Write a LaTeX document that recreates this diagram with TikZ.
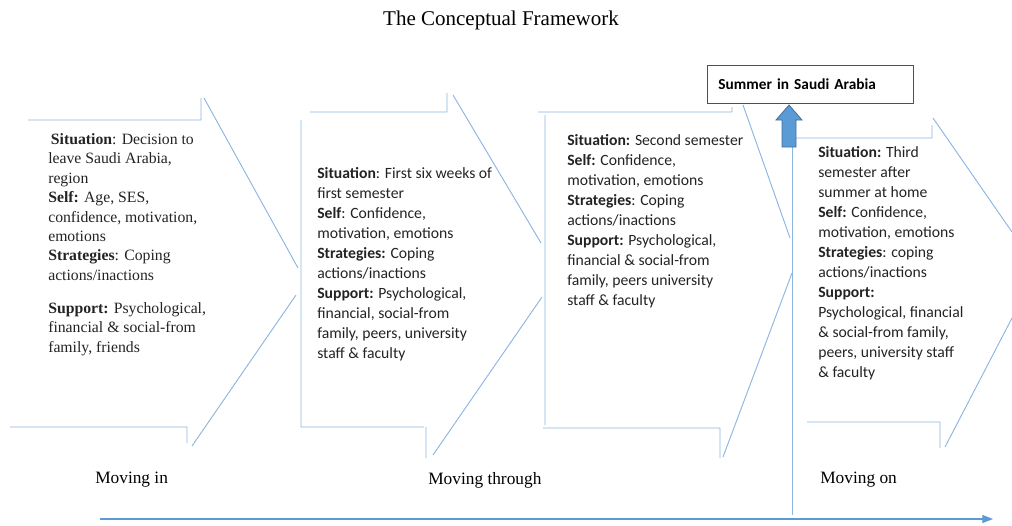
\documentclass[tikz,border=0pt]{standalone}
\usepackage{fontspec}
\setmainfont{Liberation Serif}[BoldFont={Liberation Serif Bold}]
\newfontfamily\calibri{Carlito}
\usetikzlibrary{arrows.meta}
\usetikzlibrary{positioning}

\definecolor{chevline}{RGB}{140,181,224}
\definecolor{arrowfill}{RGB}{91,155,213}
\definecolor{arrowedge}{RGB}{65,113,156}
\definecolor{boxgray}{RGB}{80,80,80}
\definecolor{bodytext}{RGB}{35,35,35}

\begin{document}
\begin{tikzpicture}[x=0.75pt, y=-0.75pt,
    chev/.style={draw=chevline, line width=0.7pt},
    body/.style={anchor=north west, align=left, inner sep=0pt, text=bodytext},
    serifbody/.style={body, font=\fontsize{11.8}{14.6}\selectfont},
    sansbody/.style={body, font=\calibri\fontsize{11.75}{15}\selectfont},
    phase/.style={anchor=west, inner sep=0pt, font=\fontsize{13}{15}\selectfont}]

    \useasboundingbox (0,0) rectangle (1012,525);

    \draw (501,20) node[font=\fontsize{15.75}{18}\selectfont] (title) {The Conceptual Framework};

    % chevrons
    \draw[chev] (28,120) -- (201,120) -- (201,98) (204,98) -- (298,268)
        (296,295) -- (192,446) (187,443) -- (187,427) -- (10,427);
    \draw[chev] (310,112) -- (447,112) -- (447,93) (453,95) -- (541,243)
        (301,120) -- (301,427) -- (424,427) (426,427) -- (426,458) (433,455) -- (542,297);
    \draw[chev] (538,112) -- (732,112) -- (732,107) (743,105) -- (790,238)
        (792,273) -- (723,457) (545,115) -- (545,425) (543,428) -- (720,428) -- (720,458);
    \draw[chev] (793,138) -- (932,138) -- (932,125) (933,118) -- (1012,232)
        (1012,318) -- (945,447) (807,422) -- (940,422) -- (940,448);

    % text in the chevrons
    \draw (48,133) node[serifbody] (movein) {\hspace{2pt}\textbf{Situation}: Decision to\\
        leave Saudi Arabia,\\ region\\ \textbf{Self:} Age, SES,\\ confidence, motivation,\\
        emotions\\ \textbf{Strategies}: Coping\\ actions/inactions\\[10pt]
        \textbf{Support:} Psychological,\\ financial \& social-from\\ family, friends};
    \draw (317,167) node[sansbody] (firstsem) {\textbf{Situation}: First six weeks of\\
        first semester\\ \textbf{Self}: Confidence,\\ motivation, emotions\\
        \textbf{Strategies:} Coping\\ actions/inactions\\ \textbf{Support:} Psychological,\\
        financial, social-from\\ family, peers, university\\ staff \& faculty};
    \draw (567,134) node[sansbody] (secondsem) {\textbf{Situation:} Second semester\\
        \textbf{Self:} Confidence,\\ motivation, emotions\\ \textbf{Strategies}: Coping\\
        actions/inactions\\ \textbf{Support:} Psychological,\\ financial \& social-from\\
        family, peers university\\ staff \& faculty};
    \draw (818,146) node[sansbody] (thirdsem) {\textbf{Situation:} Third\\ semester after\\
        summer at home\\ \textbf{Self:} Confidence,\\ motivation, emotions\\
        \textbf{Strategies}: coping\\ actions/inactions\\ \textbf{Support:}\\
        Psychological, financial\\ \& social-from family,\\ peers, university staff\\ \& faculty};

    % summer break
    \draw (707,65) node[draw=boxgray, line width=0.6pt, anchor=north west, inner xsep=8pt,
        minimum width=154.5pt, minimum height=28.5pt, text width=138pt, align=left,
        font=\calibri\bfseries\fontsize{11.5}{13}\selectfont] (summer) {Summer in Saudi Arabia};
    \coordinate (sepTop) at (792,147);
    \coordinate (sepBottom) at (792,515);
    \draw[chev] (sepTop) -- (sepBottom);
    \draw[fill=arrowfill, draw=arrowedge, line width=0.6pt] (782,147) -- (782,120) -- (776,120)
        -- (789,105) -- (802,120) -- (796,120) -- (796,147) -- cycle;

    % phases
    \draw (95,480) node[phase] (phasein) {Moving in};
    \draw (428,480) node[phase] (phasethrough) {Moving through};
    \draw (820,480) node[phase] (phaseon) {Moving on};

    \coordinate (tlStart) at (100,519);
    \coordinate (tlEnd) at (993,519);
    \draw[draw=arrowfill, line width=0.8pt, -{Triangle[length=8pt,width=6pt]}] (tlStart) -- (tlEnd);

\end{tikzpicture}
\end{document}
